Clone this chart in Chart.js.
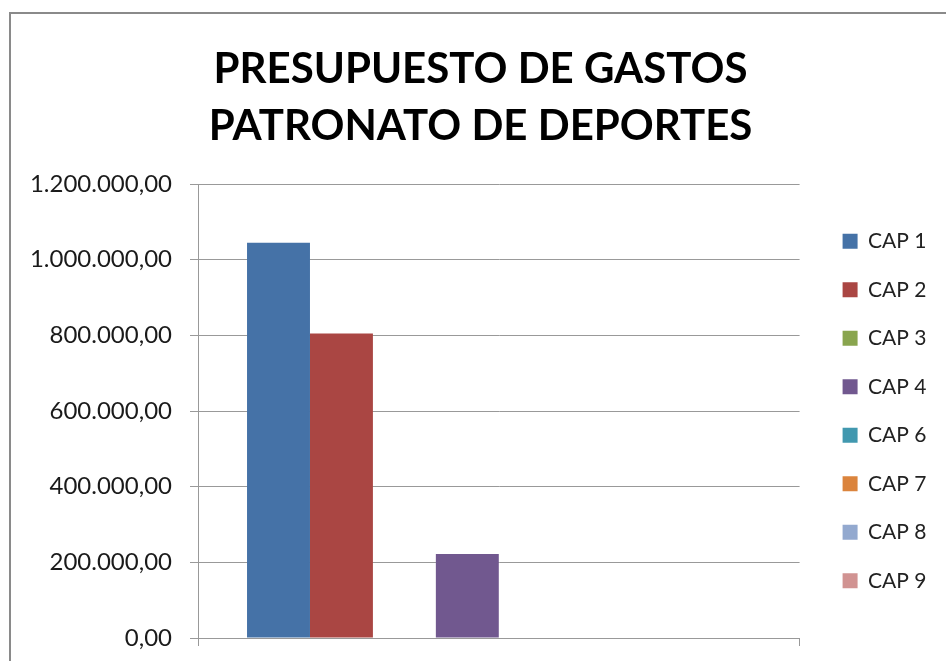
<!DOCTYPE html>
<html>
<head>
<meta charset="utf-8">
<script src="https://cdn.jsdelivr.net/npm/chart.js@4.4.0/dist/chart.umd.min.js"></script>
<style>
  html, body { margin: 0; padding: 0; background: #fff; overflow: hidden; }
  #frame {
    position: absolute; left: 9px; top: 12px;
    width: 935px; height: 657px;
    border-left: 2px solid #8a8a8a; border-top: 2px solid #8a8a8a;
  }
  canvas { display: block; }
</style>
</head>
<body>
<div id="frame"><canvas id="gastosChart" width="935" height="657"></canvas></div>
<script>
// datos
const categories = [''];
const seriesNames = ['CAP 1', 'CAP 2', 'CAP 3', 'CAP 4', 'CAP 6', 'CAP 7', 'CAP 8', 'CAP 9'];
const seriesValues = [1045000, 805000, 0, 222000, 0, 0, 0, 0];
const yTicks = [0, 200000, 400000, 600000, 800000, 1000000, 1200000];
const titleLines = ['PRESUPUESTO DE GASTOS', 'PATRONATO DE DEPORTES'];

const palette = ['#4572A7', '#AA4643', '#89A54E', '#71588F', '#4198AF', '#DB843D', '#93A9CF', '#D19392'];

function formatEuro(v) {
  let s = Math.round(v).toString().replace(/\B(?=(\d{3})+(?!\d))/g, '.');
  return s + ',00';
}

window.addEventListener('load', function () {
  var canvas = document.getElementById('gastosChart');

  var datasets = seriesNames.map(function (name, i) {
    return {
      label: name,
      data: [seriesValues[i]],
      backgroundColor: palette[i],
      borderWidth: 0,
      categoryPercentage: 0.837,
      barPercentage: 1
    };
  });

  var chart = new Chart(canvas, {
    type: 'bar',
    data: { labels: categories, datasets: datasets },
    options: {
      responsive: false,
      animation: false,
      layout: { padding: { left: 13.5, right: 9.5, top: 0, bottom: 0 } },
      plugins: {
        tooltip: { enabled: false },
        title: {
          display: true,
          text: titleLines,
          color: '#000',
          font: { family: 'Lato', size: 42, weight: 'bold', lineHeight: 57 / 42 },
          padding: { top: 27, bottom: 29 }
        },
        legend: {
          position: 'right',
          fullSize: false,
          labels: {
            color: '#222',
            font: { family: 'Lato', size: 21 },
            boxWidth: 15,
            boxHeight: 15,
            padding: 27.5
          }
        }
      },
      scales: {
        x: {
          grid: { display: true, drawOnChartArea: false, color: '#999', tickLength: 8 },
          border: { display: true, color: '#999' },
          ticks: { display: false },
          afterFit: function (s) { s.height = 33; }
        },
        y: {
          min: 0,
          max: 1200000,
          afterBuildTicks: function (axis) {
            axis.ticks = yTicks.map(function (v) { return { value: v }; });
          },
          grid: { color: '#999', tickLength: 8 },
          border: { display: true, color: '#999' },
          ticks: {
            color: '#1a1a1a',
            padding: 18,
            font: { family: 'Lato', size: 24 },
            callback: function (v) { return formatEuro(v); }
          },
          afterFit: function (s) { s.width = 173.5; }
        },
        gap: {
          position: 'right',
          display: true,
          grid: { display: false },
          border: { display: false },
          ticks: { display: false },
          afterFit: function (s) { s.width = 15.5; }
        }
      }
    }
  });
});
</script>
</body>
</html>
